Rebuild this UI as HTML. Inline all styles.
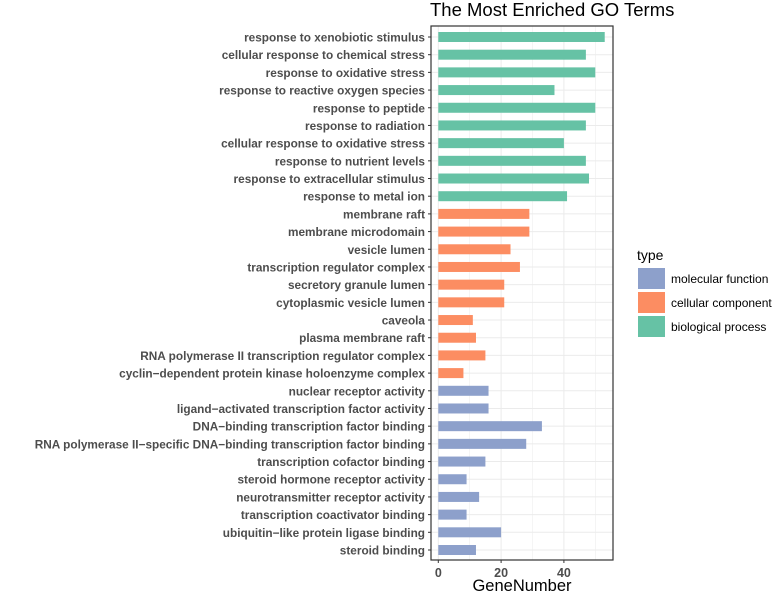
<!DOCTYPE html>
<html><head><meta charset="utf-8"><style>
body{margin:0;background:#fff;}
svg{display:block;font-family:"Liberation Sans",Arial,sans-serif;}
</style></head><body>
<svg id="chart" width="777" height="596">
<text x="430" y="16" font-size="18.5" fill="#000">The Most Enriched GO Terms</text>
<g id="grid"></g><g id="bars"></g><g id="ylabels"></g><g id="xaxis"></g>
<rect x="431" y="26" width="182" height="534" fill="none" stroke="#333" stroke-width="1.2"/>
<text x="522" y="591" font-size="16.5" text-anchor="middle" fill="#000">GeneNumber</text>
<g>
<text x="637" y="260" font-size="14" fill="#000">type</text>
<rect x="638" y="268" width="27" height="21" fill="#8DA0CB"/>
<text x="671" y="283" font-size="12">molecular function</text>
<rect x="638" y="292" width="27" height="21" fill="#FC8D62"/>
<text x="671" y="307" font-size="12">cellular component</text>
<rect x="638" y="316" width="27" height="21" fill="#66C2A5"/>
<text x="671" y="331" font-size="12">biological process</text>
</g>
</svg>
<script>
const terms=["response to xenobiotic stimulus","cellular response to chemical stress","response to oxidative stress","response to reactive oxygen species","response to peptide","response to radiation","cellular response to oxidative stress","response to nutrient levels","response to extracellular stimulus","response to metal ion","membrane raft","membrane microdomain","vesicle lumen","transcription regulator complex","secretory granule lumen","cytoplasmic vesicle lumen","caveola","plasma membrane raft","RNA polymerase II transcription regulator complex","cyclin\u2212dependent protein kinase holoenzyme complex","nuclear receptor activity","ligand\u2212activated transcription factor activity","DNA\u2212binding transcription factor binding","RNA polymerase II\u2212specific DNA\u2212binding transcription factor binding","transcription cofactor binding","steroid hormone receptor activity","neurotransmitter receptor activity","transcription coactivator binding","ubiquitin\u2212like protein ligase binding","steroid binding"];
const geneCounts=[53,47,50,37,50,47,40,47,48,41,29,29,23,26,21,21,11,12,15,8,16,16,33,28,15,9,13,9,20,12];
const types=["BP","BP","BP","BP","BP","BP","BP","BP","BP","BP","CC","CC","CC","CC","CC","CC","CC","CC","CC","CC","MF","MF","MF","MF","MF","MF","MF","MF","MF","MF"];
const xTicks=[0,20,40];
const colors={BP:"#66C2A5",CC:"#FC8D62",MF:"#8DA0CB"};
const NS="http://www.w3.org/2000/svg";
const x0=438.3,xs=3.14,y0=37,ystep=(550-37)/29,bh=10;
const X=v=>x0+v*xs, Y=i=>y0+i*ystep;
function mk(t,a,p){const e=document.createElementNS(NS,t);for(const k in a)e.setAttribute(k,a[k]);document.getElementById(p).appendChild(e);return e;}
for(let v=0;v<=50;v+=10){
 const g=mk("line",{x1:X(v),x2:X(v),y1:26,y2:560,stroke:"#ebebeb","stroke-width":v%20===0?1:0.5},"grid");
 
 
}
terms.forEach((t,i)=>{
 const gl=mk("line",{x1:431,x2:613,y1:Y(i),y2:Y(i),stroke:"#ebebeb","stroke-width":1},"grid");
 
 
 const r=mk("rect",{x:X(0),y:Y(i)-bh/2,width:X(geneCounts[i])-X(0),height:bh,fill:colors[types[i]]},"bars");
 
 
 const tk=mk("line",{x1:428,x2:431,y1:Y(i),y2:Y(i),stroke:"#333"},"ylabels");
 
 
 const tx=mk("text",{x:425,y:Y(i)+4.5,"text-anchor":"end","font-size":11.8,"font-weight":"bold",fill:"#4d4d4d"},"ylabels");
 tx.textContent=t;
 
 
});
xTicks.forEach(v=>{
 const tk=mk("line",{x1:X(v),x2:X(v),y1:560,y2:563,stroke:"#333"},"xaxis");
 
 
 const tx=mk("text",{x:X(v),y:577,"text-anchor":"middle","font-size":12.5,"font-weight":"bold",fill:"#4d4d4d"},"xaxis");
 tx.textContent=v;
 
 
});
</script>
</body></html>
